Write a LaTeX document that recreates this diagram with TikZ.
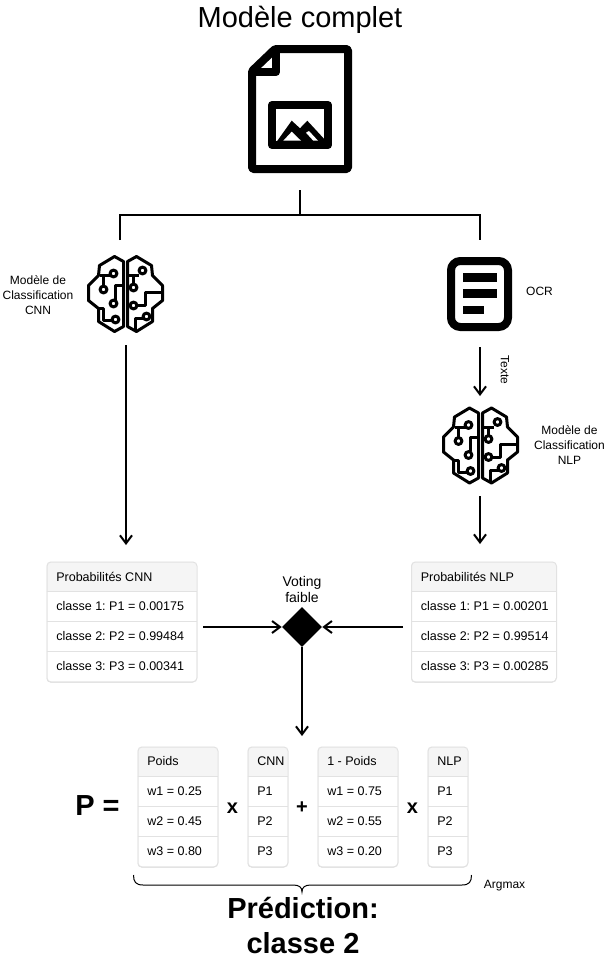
\documentclass[tikz,border=0pt]{standalone}
\usepackage{fontspec}
\setmainfont{Liberation Sans}
\usetikzlibrary{arrows.meta,shapes.geometric}
\frenchspacing

\definecolor{tableline}{HTML}{E2E2E2}
\definecolor{tablehead}{HTML}{F5F5F5}
\definecolor{tableshadow}{HTML}{DADADA}

\tikzset{
	smalltext/.style={font=\fontsize{9}{11}\selectfont, align=center},
	celltext/.style={font=\fontsize{9.4}{11}\selectfont, anchor=west, inner sep=0pt},
	opsign/.style={font=\bfseries\fontsize{15}{18}\selectfont},
	bigtext/.style={font=\bfseries\fontsize{21.75}{26}\selectfont},
	tablebox/.style={draw=tableline, line width=0.75pt, rounded corners=3pt, anchor=north west, inner sep=0pt},
	wire/.style={line width=1.5pt},
	iconline/.style={line width=2.25pt, line join=round},
	brain/.pic={
		\draw[iconline] (-2,-32) -- (-11,-37) -- (-26,-28) -- (-27,-18) -- (-37,-8) -- (-37,7) -- (-27,15) -- (-27,28) -- (-11,38) -- (-2,33) -- cycle;
		\draw[iconline] (2,-32) -- (11,-37) -- (26,-28) -- (27,-18) -- (37,-8) -- (37,7) -- (27,15) -- (27,28) -- (11,38) -- (2,33) -- cycle;
		% Gauche
		\draw[iconline] (-26,-18) -- (-13,-18);
		\draw[iconline] (-22,-18) -- (-22,-7);
		\draw[iconline] (-2,-8) -- (-10,-8) -- (-10,6);
		\draw[iconline] (-27,15) -- (-22,15) -- (-22,27) -- (-13,27);
		% Droite
		\draw[iconline] (2,-18) -- (13,-18);
		\draw[iconline] (8,-18) -- (8,-9);
		\draw[iconline] (37,-1) -- (20,-1) -- (20,12) -- (12,12);
		\draw[iconline] (10,36) -- (10,25) -- (18,25);
		% Bornes
		\foreach \bx/\by in {-12/-20, -22/-4, -12/10, -10/26, 17/-23, 8/-6, 8/12, 21/23}
			\draw[iconline, fill=white] (\bx,\by) circle (3.4);
	}
}

% nom, gauche, haut, droite, titre, lignes
\newcommand{\probtable}[6]{
	\fill[tableshadow, rounded corners=3pt] (#2,#3+2) rectangle (#4,#3+121);
	\fill[white, rounded corners=3pt] (#2,#3) rectangle (#4,#3+120);
	\fill[tablehead] (#2,#3+30) [rounded corners=3pt] -- (#2,#3) -- (#4,#3) [sharp corners] -- (#4,#3+30) -- cycle;
	\node[tablebox, minimum width={(#4-#2)*0.75pt}, minimum height=90pt] (#1) at (#2,#3) {};
	\node[celltext] (#1-head) at (#2+9.5,#3+15) {#5};
	\foreach \row [count=\i] in {#6} {
		\draw[tableline, line width=0.75pt] (#2,#3+\i*30) -- (#4,#3+\i*30);
		\node[celltext] (#1-\i) at (#2+9.5,#3+\i*30+15) {\row};
	}
}

\begin{document}
\begin{tikzpicture}[x=0.75pt, y=-0.75pt, >={Straight Barb[length=6pt,width=9pt]}]
	\useasboundingbox (0,0) rectangle (607,961);

	% Titre
	\node[font=\fontsize{21.75}{25}\selectfont] (title) at (300,20) {Modèle complet};

	% Document
	\draw[line width=6pt, line join=round, rounded corners=1pt] (252,71) -- (275,49) -- (348,49) -- (348,169) -- (252,169) -- cycle;
	\draw[line width=6pt, line join=round] (276,49) -- (276,72) -- (252,72);
	\draw[line width=6pt, line join=round] (272,105) rectangle (328,145);
	\fill (276.7,141.7) -- (291.7,120.7) -- (300,128.3) -- (307.3,120.7) -- (326.7,141.7) -- cycle;
	\fill[white] (283.3,140.7) -- (291.7,131.7) -- (301,140.7) -- cycle;
	\fill[white] (306,132.7) -- (309,131) -- (318,140.7) -- (313.3,140.7) -- cycle;

	% Bus
	\coordinate (docout) at (300,190);
	\coordinate (busmid) at (300,215);
	\coordinate (busleft) at (120,215);
	\coordinate (busright) at (480,215);
	\coordinate (cnnin) at (120,240);
	\coordinate (ocrin) at (480,240);
	\draw[wire] (docout) -- (busmid);
	\draw[wire] (cnnin) -- (busleft) -- (busright) -- (ocrin);

	% Branche CNN
	\pic at (125.5,293.5) {brain};
	\node[smalltext] (cnnlabel) at (38,295) {Modèle de\\Classification\\CNN};
	\coordinate (cnnout) at (126,345);
	\coordinate (cnnprob) at (126,545);
	\draw[wire, ->] (cnnout) -- (cnnprob);

	% Branche OCR
	\draw[line width=6pt, rounded corners=7pt] (451,261) rectangle (508,327);
	\fill (463,273) rectangle (497,282);
	\fill (463,289) rectangle (497,298);
	\fill (463,306) rectangle (484,314);
	\node[smalltext] (ocrlabel) at (539.5,291) {OCR};
	\coordinate (ocrout) at (480,347);
	\coordinate (nlpin) at (480,396);
	\draw[wire, ->] (ocrout) -- (nlpin);
	\node[smalltext, rotate=-90] (textlabel) at (505,370) {Texte};

	% Branche NLP
	\pic at (480.5,445) {brain};
	\node[smalltext] (nlplabel) at (569.5,445) {Modèle de\\Classification\\NLP};
	\coordinate (nlpout) at (480,496);
	\coordinate (nlpprob) at (480,544);
	\draw[wire, ->] (nlpout) -- (nlpprob);

	% Probabilites
	\probtable{cnntable}{46.5}{561.5}{196.5}{Probabilités CNN}{classe 1: P1 = 0.00175, classe 2: P2 = 0.99484, classe 3: P3 = 0.00341}
	\probtable{nlptable}{411}{561.5}{556}{Probabilités NLP}{classe 1: P1 = 0.00201, classe 2: P2 = 0.99514, classe 3: P3 = 0.00285}

	% Vote
	\node[diamond, aspect=1, fill=black, inner sep=0pt, minimum size=30pt] (vote) at (302,627) {};
	\node[font=\fontsize{10.5}{12}\selectfont, align=center] (votelabel) at (302,589) {Voting\\faible};
	\coordinate (voteleft) at (203,627);
	\coordinate (voteright) at (403,627);
	\coordinate (votedown) at (302,736);
	\draw[wire, ->] (voteleft) -- (vote.west);
	\draw[wire, ->] (voteright) -- (vote.east);
	\draw[wire, ->] (vote.south) -- (votedown);

	% Formule
	\node[bigtext] (pequal) at (97.5,806) {P =};
	\probtable{poids}{137.5}{746.5}{217.5}{Poids}{w1 = 0.25, w2 = 0.45, w3 = 0.80}
	\node[opsign] (times1) at (232.5,808) {x};
	\probtable{cnnp}{247.5}{746.5}{287.5}{CNN}{P1, P2, P3}
	\node[opsign] (plus) at (302,808) {+};
	\probtable{invpoids}{317.5}{746.5}{397.5}{1 - Poids}{w1 = 0.75, w2 = 0.55, w3 = 0.20}
	\node[opsign] (times2) at (412.5,808) {x};
	\probtable{nlpp}{427.5}{746.5}{467.5}{NLP}{P1, P2, P3}

	% Accolade
	\draw[line width=0.75pt] (133.5,875) .. controls (133.5,882) and (136,885) .. (143,885) -- (293,885) .. controls (299,885) and (302,887) .. (302,892) .. controls (302,887) and (305,885) .. (311,885) -- (462,885) .. controls (469,885) and (471.5,882) .. (471.5,875);
	\node[smalltext] (argmax) at (504.5,886) {Argmax};

	% Resultat
	\node[bigtext] (prediction) at (303,908) {Prédiction:};
	\node[bigtext] (result) at (303,943) {classe 2};
\end{tikzpicture}
\end{document}
